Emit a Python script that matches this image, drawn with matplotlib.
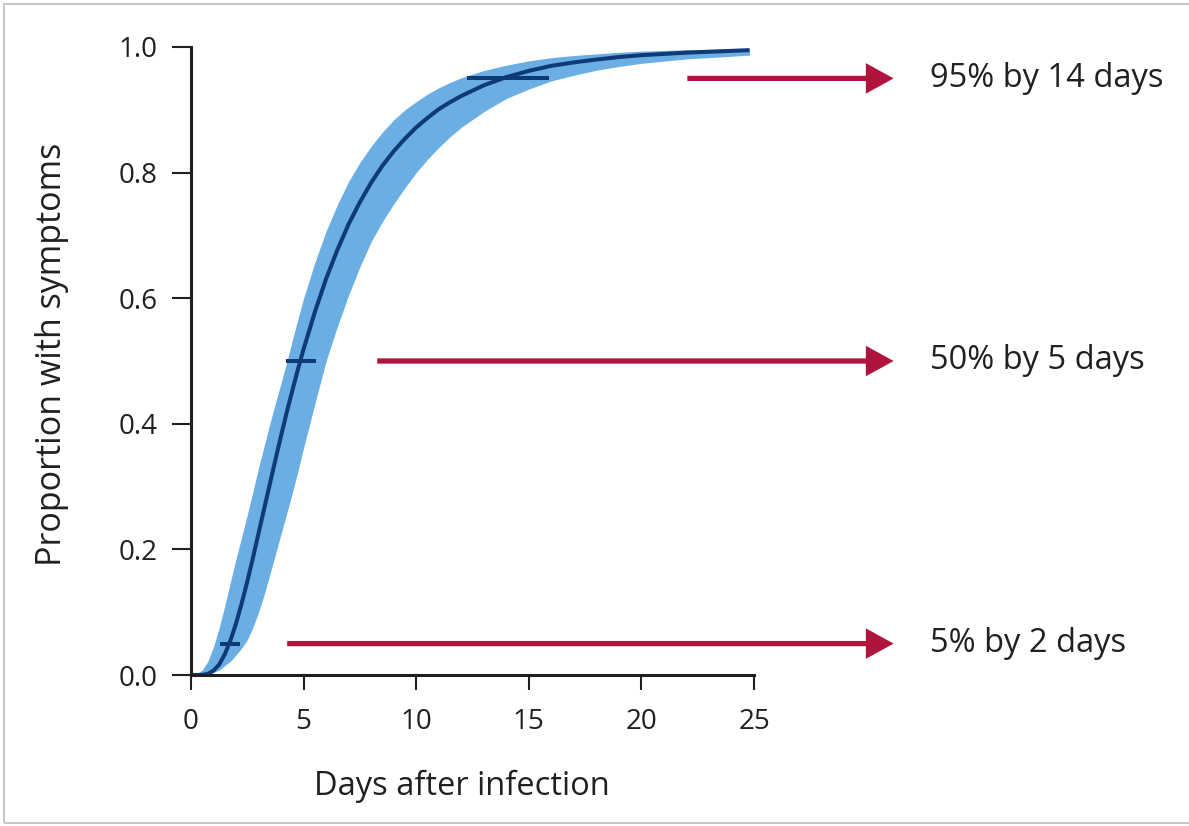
import matplotlib
matplotlib.use('Agg')
import matplotlib.pyplot as plt
from matplotlib.patches import Rectangle

plt.rcParams['font.family'] = ['Open Sans', 'DejaVu Sans']

# values
days = [0, 0.25, 0.5, 0.75, 1, 1.25, 1.5, 1.75, 2, 2.25, 2.5, 2.75, 3, 3.25,
        3.5, 3.75, 4, 4.25, 4.5, 4.75, 5, 5.5, 6, 6.5, 7, 7.5, 8, 8.5, 9,
        9.5, 10, 10.5, 11, 11.5, 12, 13, 14, 15, 16, 17, 18, 19, 20, 22, 24.8]
prop_mid = [0, 0, 0.0002, 0.0017, 0.007, 0.0166, 0.033, 0.0548, 0.082, 0.114,
            0.149, 0.1865, 0.226, 0.265, 0.304, 0.343, 0.381, 0.418, 0.453,
            0.487, 0.519, 0.578, 0.631, 0.677, 0.718, 0.753, 0.784, 0.811,
            0.834, 0.854, 0.872, 0.887, 0.901, 0.912, 0.922, 0.939, 0.952,
            0.962, 0.970, 0.9755, 0.980, 0.984, 0.987, 0.991, 0.995]
band_hi = [0, 0.002, 0.008, 0.022, 0.045, 0.075, 0.11, 0.148, 0.185, 0.22,
           0.255, 0.292, 0.33, 0.365, 0.40, 0.433, 0.465, 0.498, 0.533, 0.567,
           0.600, 0.657, 0.707, 0.749, 0.786, 0.816, 0.842, 0.8645, 0.884,
           0.900, 0.913, 0.925, 0.935, 0.9435, 0.951, 0.9625, 0.971, 0.978,
           0.983, 0.9865, 0.989, 0.9916, 0.9933, 0.9956, 0.9976]
band_lo = [0, 0, 0, 0.001, 0.004, 0.008, 0.015, 0.022, 0.032, 0.043, 0.056,
           0.076, 0.10, 0.128, 0.16, 0.192, 0.225, 0.257, 0.29, 0.325, 0.362,
           0.432, 0.50, 0.555, 0.605, 0.65, 0.69, 0.722, 0.75, 0.776, 0.80,
           0.821, 0.84, 0.857, 0.872, 0.897, 0.918, 0.933, 0.946, 0.955,
           0.963, 0.969, 0.974, 0.981, 0.987]

# quantile marks (short horizontal bars on the curve)
q_level = [0.05, 0.5, 0.95]
q_from = [1.29, 4.22, 12.25]
q_to = [2.18, 5.56, 15.9]

# arrows and their notes
arrow_start = [4.27, 8.27, 22.04]
arrow_end = 31.2
notes = ['5% by 2 days', '50% by 5 days', '95% by 14 days']

band_col = '#6aaee3'
line_col = '#0f3a78'
red = '#b0143c'
ink = '#231f20'

fig = plt.figure(figsize=(11.89, 8.26), dpi=100)
ax = fig.add_axes([191 / 1189, 1 - 675 / 826, 563 / 1189, 628 / 826])

ax.fill_between(days, band_lo, band_hi, color=band_col, lw=0, clip_on=False)
ax.plot(days, prop_mid, color=line_col, lw=2.9, clip_on=False,
        solid_capstyle='butt')
for lev, a, b in zip(q_level, q_from, q_to):
    ax.plot([a, b], [lev, lev], color=line_col, lw=2.9, clip_on=False,
            solid_capstyle='butt')

for lev, x0, txt in zip(q_level, arrow_start, notes):
    ax.annotate('', xy=(arrow_end, lev), xytext=(x0, lev),
                xycoords='data', textcoords='data', annotation_clip=False,
                arrowprops=dict(arrowstyle='simple,head_length=1.0,head_width=1.1,tail_width=0.19',
                                mutation_scale=20, fc=red, ec='none', lw=0,
                                shrinkA=0, shrinkB=0))
    ax.text(32.8, lev, txt, fontsize=23.5, color=ink, va='center', ha='left',
            clip_on=False)

ax.set_xlim(0, 25)
ax.set_ylim(0, 1)
ax.set_xticks([0, 5, 10, 15, 20, 25])
ax.set_yticks([0, 0.2, 0.4, 0.6, 0.8, 1.0])
ax.set_yticklabels(['0.0', '0.2', '0.4', '0.6', '0.8', '1.0'])
ax.tick_params(axis='y', direction='out', length=14, width=1.5, pad=10,
               labelsize=20, colors=ink)
ax.tick_params(axis='x', direction='out', length=11, width=1.5, pad=13,
               labelsize=20, colors=ink)
for s in ['top', 'right']:
    ax.spines[s].set_visible(False)
for s in ['left', 'bottom']:
    ax.spines[s].set_linewidth(2.2)
    ax.spines[s].set_color(ink)

ax.set_xlabel('Days after infection', fontsize=23.5, color=ink, va='center')
ax.set_ylabel('Proportion with symptoms', fontsize=24.5, color=ink, va='center')
ax.xaxis.set_label_coords(0.481, -0.178)
ax.yaxis.set_label_coords(-0.247, 0.51)

# thin grey frame round the whole picture
fig.patches.append(Rectangle((4 / 1189, 3 / 826), 1.2, 1 - 7 / 826,
                             transform=fig.transFigure, fill=False,
                             ec='#c8c8c8', lw=1.5))

fig.savefig('out.png', dpi=100)
